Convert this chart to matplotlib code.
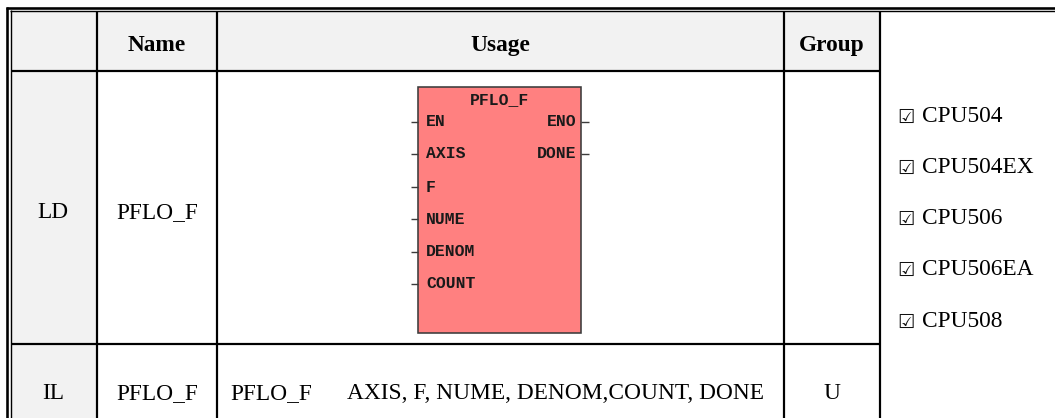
import matplotlib
matplotlib.use('Agg')
import matplotlib.pyplot as plt
from matplotlib.patches import Rectangle

# ---- table content ----
headers = ['', 'Name', 'Usage', 'Group']
languages = ['LD', 'IL']
names = ['PFLO_F', 'PFLO_F']
il_instruction = 'PFLO_F'
il_operands = 'AXIS, F, NUME, DENOM,COUNT, DONE'
groups = ['', 'U']
cpus = ['CPU504', 'CPU504EX', 'CPU506', 'CPU506EA', 'CPU508']
block_title = 'PFLO_F'
inputs = ['EN', 'AXIS', 'F', 'NUME', 'DENOM', 'COUNT']
outputs = ['ENO', 'DONE']

W, H = 1055, 418
fig = plt.figure(figsize=(W / 100, H / 100), dpi=100)
ax = fig.add_axes([0, 0, 1, 1])
ax.set_xlim(0, W)
ax.set_ylim(H, 0)
ax.axis('off')

PX = 0.72  # points per pixel
serif = ['Liberation Serif', 'DejaVu Serif']
FS = 16.8

col_x = [11, 97, 217, 784, 880]
y_top, y_head, y_row = 11, 71, 344
gray = '#f2f2f2'

# fills
ax.add_patch(Rectangle((col_x[0], y_top), col_x[4] - col_x[0], y_head - y_top, facecolor=gray, lw=0))
ax.add_patch(Rectangle((col_x[0], y_head), col_x[1] - col_x[0], H - y_head, facecolor=gray, lw=0))


def hline(y, x0, x1, w):
    ax.plot([x0, x1], [y, y], color='black', lw=w * PX, solid_capstyle='butt')


def vline(x, y0, y1, w):
    ax.plot([x, x], [y0, y1], color='black', lw=w * PX, solid_capstyle='butt')

# outer double border
hline(8.3, 6, W, 2.6)
hline(11, 10, W, 1.4)
vline(7.3, 7, H, 2.6)
vline(11, 10, H, 1.4)
# grid
hline(y_head, 11, col_x[4], 2.2)
hline(y_row, 11, col_x[4], 2.2)
for x in col_x[1:]:
    vline(x, 11, H, 2.2)

# header texts
head_base = 51
for i, h in enumerate(headers):
    if h:
        ax.text((col_x[i] + col_x[i + 1]) / 2, head_base, h, family=serif,
                fontsize=FS, fontweight='bold', ha='center', va='baseline')

# first and second column
row_base = [218, 399]
for lang, nm, grp, yb in zip(languages, names, groups, row_base):
    ax.text((col_x[0] + col_x[1]) / 2 - 1, yb, lang, family=serif, fontsize=FS,
            ha='center', va='baseline')
    ax.text((col_x[1] + col_x[2]) / 2, yb, nm, family=serif, fontsize=FS,
            ha='center', va='baseline')
    if grp:
        ax.text((col_x[3] + col_x[4]) / 2, yb, grp, family=serif, fontsize=FS,
                ha='center', va='baseline')

# IL usage
ax.text(230, row_base[1], il_instruction, family=serif, fontsize=FS, ha='left', va='baseline')
ax.text(347, row_base[1], il_operands, family=serif, fontsize=FS, ha='left', va='baseline')

# CPU list
cpu_base = [122, 173, 224, 275, 327]
for c, yb in zip(cpus, cpu_base):
    ax.text(897, yb + 1, '\u2611', family=['DejaVu Sans'], fontsize=14,
            ha='left', va='baseline', color='#111111')
    ax.text(922, yb, c, family=serif, fontsize=FS, ha='left', va='baseline')

# function block
bx0, bx1, by0, by1 = 418, 581, 87, 333
ax.add_patch(Rectangle((bx0, by0), bx1 - bx0, by1 - by0, facecolor='#ff8080',
                       edgecolor='#3c3c3c', lw=1.6 * PX))
mono = ['Liberation Mono', 'DejaVu Sans Mono']
BFS = 11.8
ax.text((bx0 + bx1) / 2, 100, block_title, family=mono, fontsize=BFS,
        fontweight='bold', ha='center', va='center', color='#1a1a1a')
pin_y = [122, 154, 187, 219, 252, 284]
for name, y in zip(inputs, pin_y):
    ax.plot([411, bx0], [y, y], color='#3c3c3c', lw=1.4 * PX, solid_capstyle='butt')
    ax.text(426, y, name, family=mono, fontsize=BFS, fontweight='bold',
            ha='left', va='center', color='#1a1a1a')
for name, y in zip(outputs, pin_y):
    ax.plot([bx1, 589], [y, y], color='#3c3c3c', lw=1.4 * PX, solid_capstyle='butt')
    ax.text(576, y, name, family=mono, fontsize=BFS, fontweight='bold',
            ha='right', va='center', color='#1a1a1a')

fig.savefig('out.png', dpi=100)
